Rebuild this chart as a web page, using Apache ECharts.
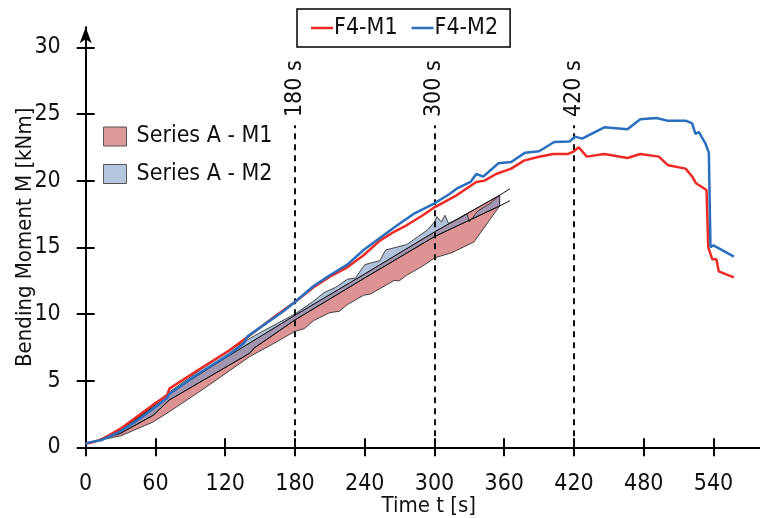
<!DOCTYPE html>
<html><head><meta charset="utf-8">
<script src="https://cdn.jsdelivr.net/npm/echarts@6/dist/echarts.min.js"></script>
<style>html,body{margin:0;padding:0;background:#fff}#c{width:760px;height:518px}</style>
</head><body><div id="c"></div>
<script>
// ---- data ----
const xTicks = [0, 60, 120, 180, 240, 300, 360, 420, 480, 540];
const yTicks = [0, 5, 10, 15, 20, 25, 30];
const markerTimes = [180, 300, 420];
const markerLabels = ['180 s', '300 s', '420 s'];
const markerTop = 24.15;
const markerLabelY = 26.9;

const f4m1 = [[0,0.3],[5,0.35],[14,0.6],[30,1.4],[44,2.3],[58,3.2],[70,3.9],[72,4.4],[95,5.7],[124,7.3],[138,8.2],[164,9.9],[180,10.9],[196,12.0],[210,12.8],[225,13.5],[239,14.4],[253,15.5],[266,16.2],[276,16.65],[290,17.4],[300,18.0],[319,18.9],[336,19.9],[343,20.0],[353,20.5],[366,20.9],[377,21.5],[389,21.77],[402,22.0],[415,22.0],[420,22.2],[424,22.5],[431,21.8],[446,22.0],[466,21.7],[477,22.0],[493,21.8],[501,21.15],[516,20.9],[522,20.27],[525,19.8],[534,19.3],[535.5,15.0],[539,14.1],[542.5,14.1],[544.5,13.2],[557.5,12.75]];
const f4m2 = [[0,0.2],[2,0.35],[14,0.55],[30,1.2],[44,2.0],[58,2.9],[70,3.7],[72,4.0],[95,5.4],[124,7.0],[136,7.8],[139,8.3],[170,10.2],[180,10.9],[196,12.1],[210,12.9],[225,13.7],[239,14.8],[253,15.7],[268,16.65],[282,17.5],[300,18.3],[313,19.0],[319,19.4],[331,19.9],[336,20.5],[342,20.3],[355,21.3],[366,21.4],[378,22.1],[390,22.2],[403,22.9],[416,22.94],[421,23.3],[427,23.15],[446,24.0],[466,23.85],[477,24.6],[491,24.7],[500,24.5],[516,24.5],[521.6,24.3],[524.5,23.5],[527.3,23.65],[533,22.8],[536,22.1],[537.4,15.0],[540,15.15],[557.5,14.3]];

// Series A envelopes
const m2Upper = [[10,0.5],[30,1.3],[50,2.55],[72,4.15],[100,5.9],[130,7.6],[150,8.6],[165,9.3],[180,10.0],[195,10.9],[205,11.6],[215,12.0],[225,12.6],[232,12.7],[240,13.7],[253,14.0],[258,14.8],[276,15.2],[294,16.3],[300,16.9],[302,17.3],[306,16.9],[309,17.4],[312,16.8],[320,17.1],[328,17.5],[330,16.9],[337,17.7],[348,18.3],[356,18.9]];
const m1Lower = [[10,0.5],[30,0.85],[58,1.9],[72,2.67],[100,4.3],[141,6.8],[160,7.7],[180,8.7],[188,8.9],[196,9.5],[210,10.1],[218,10.2],[225,10.7],[239,11.4],[245,11.5],[253,11.9],[265,12.5],[270,12.5],[276,12.9],[290,13.6],[300,14.2],[315,14.6],[334,15.4],[356,18.1]];
const lineUpper = [[10,0.5],[30,1.3],[50,2.5],[72,4.05],[120,6.7],[180,9.9],[240,13.0],[300,16.15],[356,18.9],[365,19.4]];
const lineLower = [[10,0.5],[30,1.05],[58,2.4],[72,3.55],[141,7.05],[145,7.45],[180,9.55],[240,12.7],[300,15.8],[356,18.1],[365,18.5]];
const bandEnd = 356;

// ---- chart ----
const FONT = "'DejaVu Sans Condensed','Liberation Sans Narrow',sans-serif";
const chart = echarts.init(document.getElementById('c'), null, {renderer: 'canvas'});

function bandRenderer(upper, lower, fill) {
  return function (params, api) {
    if (params.dataIndex !== 0) return null;
    const up = upper.filter(p => p[0] <= bandEnd).map(p => api.coord(p));
    const lo = lower.filter(p => p[0] <= bandEnd).map(p => api.coord(p)).reverse();
    return {type: 'polygon', shape: {points: up.concat(lo)},
      style: {fill: fill, stroke: '#333', lineWidth: 0.9}};
  };
}

const axisCommon = {type: 'value', splitLine: {show: false}};

chart.setOption({
  animation: false,
  backgroundColor: '#fff',
  grid: {left: 85.7, right: 0, top: 27.3, bottom: 70.7, outerBoundsMode: 'none', containLabel: false},
  legend: [
    {
      data: [{name: 'F4-M1', icon: 'rect'}, {name: 'F4-M2', icon: 'rect'}],
      left: 297, top: 9, orient: 'horizontal',
      padding: [6, 12, 6, 14], itemGap: 14,
      itemWidth: 22, itemHeight: 2.5,
      borderColor: '#000', borderWidth: 1.5, backgroundColor: '#fff',
      textStyle: {fontFamily: FONT, fontSize: 23, color: '#111', lineHeight: 26, padding: [0,0,0,-4]}
    },
    {
      data: [
        {name: 'Series A - M1', icon: 'rect', itemStyle: {color: '#dd9999', borderColor: '#555', borderWidth: 1}},
        {name: 'Series A - M2', icon: 'rect', itemStyle: {color: '#b4c6de', borderColor: '#555', borderWidth: 1}}
      ],
      left: 103, top: 124, orient: 'vertical', padding: 0,
      itemWidth: 23, itemHeight: 19, itemGap: 12.5,
      textStyle: {fontFamily: FONT, fontSize: 23, color: '#111', lineHeight: 25, padding: [0,0,0,5]}
    }
  ],
  xAxis: [
    Object.assign({}, axisCommon, {
      min: 0, max: 580,
      name: 'Time t [s]', nameLocation: 'middle', nameGap: 48, nameMoveOverlap: false,
      nameTextStyle: {fontFamily: FONT, fontSize: 22, color: '#111', padding: [0,0,0,12]},
      axisLine: {show: true, onZero: false, lineStyle: {color: '#000', width: 2}},
      axisTick: {show: true, inside: false, length: 9, lineStyle: {color: '#000', width: 2}, customValues: xTicks},
      axisLabel: {fontFamily: FONT, fontSize: 23, color: '#111', margin: 25, customValues: xTicks}
    }),
    Object.assign({}, axisCommon, {
      min: 0, max: 580, position: 'bottom',
      axisLine: {show: false, onZero: false},
      axisTick: {show: true, inside: true, length: 9, lineStyle: {color: '#000', width: 2}, customValues: xTicks},
      axisLabel: {show: false}
    })
  ],
  yAxis: [
    Object.assign({}, axisCommon, {
      min: 0, max: 31.5,
      name: 'Bending Moment M [kNm]', nameLocation: 'middle', nameGap: 49, nameMoveOverlap: false,
      nameTextStyle: {fontFamily: FONT, fontSize: 22, color: '#111'},
      axisLine: {show: true, onZero: false, symbol: ['none', 'arrow'], symbolSize: [9, 16], lineStyle: {color: '#000', width: 2}},
      axisTick: {show: true, inside: false, length: 9, lineStyle: {color: '#000', width: 2}, customValues: yTicks},
      axisLabel: {fontFamily: FONT, fontSize: 23, color: '#111', margin: 25, customValues: yTicks}
    }),
    Object.assign({}, axisCommon, {
      min: 0, max: 31.5, position: 'left',
      axisLine: {show: false, onZero: false},
      axisTick: {show: true, inside: true, length: 9, lineStyle: {color: '#000', width: 2}, customValues: yTicks},
      axisLabel: {show: false}
    })
  ],
  series: [
    {
      name: 'Series A - M1', type: 'custom', z: 2,
      renderItem: bandRenderer(lineUpper, m1Lower, '#dd9393'),
      data: m1Lower, encode: {x: 0, y: 1}, silent: true
    },
    {
      name: 'Series A - M2', type: 'custom', z: 3,
      renderItem: bandRenderer(m2Upper, lineLower, 'rgba(120,150,195,0.58)'),
      data: m2Upper, encode: {x: 0, y: 1}, silent: true
    },
    {
      name: 'trendUpper', type: 'line', z: 4, data: lineUpper, symbol: 'none',
      lineStyle: {color: '#111', width: 1}, silent: true
    },
    {
      name: 'trendLower', type: 'line', z: 4, data: lineLower, symbol: 'none',
      lineStyle: {color: '#111', width: 1}, silent: true
    },
    {
      name: 'markers', type: 'custom', z: 5, silent: true,
      data: markerTimes.map((t, i) => [t, markerLabelY, i]),
      encode: {x: 0, y: 1},
      renderItem: function (params, api) {
        const p = api.coord([api.value(0), api.value(1)]);
        return {type: 'text', x: p[0], y: p[1], rotation: Math.PI / 2,
          style: {text: markerLabels[api.value(2)], font: '23px ' + FONT, fill: '#111', align: 'center', verticalAlign: 'middle'}};
      },
      markLine: {
        symbol: 'none', silent: true,
        lineStyle: {color: '#111', type: [6, 5], width: 2},
        label: {show: false},
        data: markerTimes.map(t => [{coord: [t, 0]}, {coord: [t, markerTop]}])
      }
    },
    {
      name: 'F4-M1', type: 'line', z: 6, data: f4m1, symbol: 'none',
      itemStyle: {color: '#ee2a24'}, lineStyle: {color: '#ee2a24', width: 2.5}
    },
    {
      name: 'F4-M2', type: 'line', z: 7, data: f4m2, symbol: 'none',
      itemStyle: {color: '#2a6fbe'}, lineStyle: {color: '#2a6fbe', width: 2.5}
    }
  ]
});
</script></body></html>
